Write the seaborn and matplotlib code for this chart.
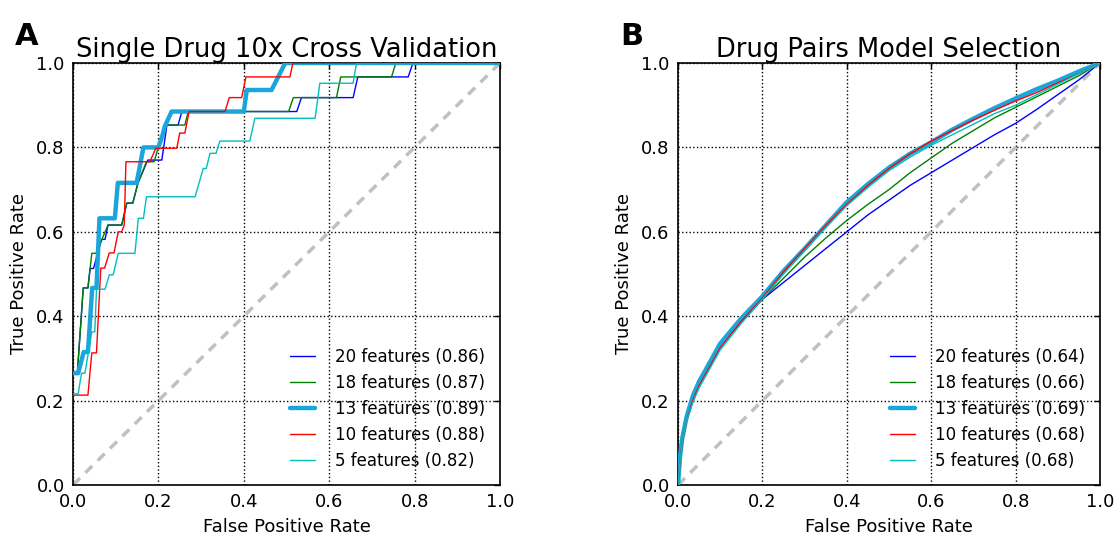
import matplotlib
matplotlib.use("Agg")
import matplotlib.pyplot as plt
import numpy as np
import seaborn as sns

# ---- Panel A: single drug, 10x cross validation (ROC curves) ----
a_labels = ["20 features (0.86)", "18 features (0.87)", "13 features (0.89)",
            "10 features (0.88)", "5 features (0.82)"]

a20_fpr = [0, 0.01, 0.024, 0.035, 0.04, 0.048, 0.067, 0.075, 0.082, 0.114, 0.126, 0.14,
           0.152, 0.175, 0.208, 0.22, 0.246, 0.255, 0.524, 0.535, 0.656, 0.667, 0.785, 0.796, 1.0]
a20_tpr = [0.263, 0.263, 0.467, 0.467, 0.513, 0.513, 0.582, 0.582, 0.616, 0.616, 0.668, 0.668,
           0.715, 0.77, 0.77, 0.853, 0.853, 0.885, 0.885, 0.918, 0.918, 0.967, 0.967, 1.0, 1.0]

a18_fpr = [0, 0.01, 0.024, 0.035, 0.044, 0.054, 0.082, 0.114, 0.126, 0.14, 0.152, 0.172,
           0.19, 0.215, 0.262, 0.27, 0.505, 0.516, 0.617, 0.627, 0.746, 0.756, 1.0]
a18_tpr = [0.263, 0.263, 0.467, 0.467, 0.549, 0.549, 0.616, 0.616, 0.668, 0.668, 0.715, 0.766,
           0.766, 0.853, 0.853, 0.885, 0.885, 0.918, 0.918, 0.967, 0.967, 1.0, 1.0]

a13_fpr = [0, 0.012, 0.025, 0.035, 0.045, 0.055, 0.062, 0.098, 0.105, 0.149, 0.165, 0.20,
           0.21, 0.215, 0.231, 0.40, 0.407, 0.465, 0.497, 1.0]
a13_tpr = [0.265, 0.265, 0.315, 0.315, 0.467, 0.467, 0.632, 0.632, 0.716, 0.716, 0.80, 0.80,
           0.83, 0.85, 0.885, 0.885, 0.936, 0.936, 1.0, 1.0]

a10_fpr = [0, 0.035, 0.044, 0.055, 0.065, 0.074, 0.085, 0.096, 0.106, 0.114, 0.12, 0.124,
           0.18, 0.194, 0.243, 0.25, 0.262, 0.272, 0.356, 0.366, 0.395, 0.405, 0.508, 0.515, 1.0]
a10_tpr = [0.213, 0.213, 0.313, 0.313, 0.514, 0.514, 0.55, 0.55, 0.60, 0.60, 0.616, 0.766,
           0.766, 0.798, 0.798, 0.834, 0.834, 0.885, 0.885, 0.918, 0.918, 0.967, 0.967, 1.0, 1.0]

a5_fpr = [0, 0.012, 0.02, 0.028, 0.044, 0.051, 0.055, 0.075, 0.085, 0.094, 0.106, 0.145,
          0.153, 0.165, 0.172, 0.286, 0.305, 0.312, 0.321, 0.335, 0.344, 0.414, 0.426, 0.567,
          0.578, 0.656, 0.664, 1.0]
a5_tpr = [0.216, 0.216, 0.265, 0.265, 0.363, 0.363, 0.464, 0.464, 0.498, 0.498, 0.549, 0.549,
          0.632, 0.632, 0.683, 0.683, 0.75, 0.75, 0.786, 0.786, 0.815, 0.815, 0.869, 0.869,
          0.952, 0.952, 1.0, 1.0]

# ---- Panel B: drug pairs model selection (ROC curves) ----
b_labels = ["20 features (0.64)", "18 features (0.66)", "13 features (0.69)",
            "10 features (0.68)", "5 features (0.68)"]
b_fpr = [0, 0.005, 0.01, 0.02, 0.035, 0.05, 0.075, 0.1, 0.15, 0.2, 0.25, 0.3, 0.35, 0.4,
         0.45, 0.5, 0.55, 0.6, 0.65, 0.7, 0.75, 0.8, 0.85, 0.9, 0.95, 1.0]
b20_tpr = [0, 0.07, 0.115, 0.165, 0.215, 0.25, 0.29, 0.33, 0.387, 0.44, 0.48, 0.52, 0.56,
           0.60, 0.64, 0.675, 0.71, 0.74, 0.77, 0.80, 0.83, 0.857, 0.89, 0.925, 0.96, 1.0]
b18_tpr = [0, 0.07, 0.115, 0.168, 0.218, 0.25, 0.29, 0.33, 0.39, 0.44, 0.49, 0.54, 0.585,
           0.627, 0.665, 0.70, 0.74, 0.775, 0.81, 0.84, 0.87, 0.895, 0.92, 0.945, 0.97, 1.0]
b13_tpr = [0, 0.07, 0.11, 0.16, 0.21, 0.245, 0.29, 0.335, 0.395, 0.447, 0.507, 0.56, 0.615,
           0.67, 0.713, 0.752, 0.785, 0.812, 0.842, 0.868, 0.893, 0.916, 0.938, 0.958, 0.98, 1.0]
b10_tpr = [0, 0.06, 0.10, 0.15, 0.20, 0.235, 0.28, 0.325, 0.388, 0.443, 0.505, 0.56, 0.615,
           0.665, 0.71, 0.75, 0.785, 0.815, 0.84, 0.865, 0.888, 0.91, 0.93, 0.953, 0.975, 1.0]
b5_tpr = [0, 0.06, 0.10, 0.15, 0.195, 0.23, 0.275, 0.32, 0.383, 0.44, 0.50, 0.555, 0.61,
          0.662, 0.705, 0.745, 0.777, 0.805, 0.83, 0.855, 0.88, 0.90, 0.925, 0.95, 0.975, 1.0]

ticks = [0.0, 0.2, 0.4, 0.6, 0.8, 1.0]
tick_labels = ["0.0", "0.2", "0.4", "0.6", "0.8", "1.0"]

colors = ["#0000ff", "#007f00", "#1aa6dc", "#ff0000", "#00bfbf"]
widths = [1.0, 1.0, 3.2, 1.0, 1.0]

sns.set_style("white")
plt.rcParams["font.family"] = ["DejaVu Sans"]
plt.rcParams.update({
    "text.color": "black",
    "axes.labelcolor": "black",
    "xtick.color": "black",
    "ytick.color": "black",
    "axes.edgecolor": "black",
})

fig = plt.figure(figsize=(11.2, 5.4), dpi=100)
ax_a = fig.add_axes([73 / 1120, 1 - 485 / 540, 427 / 1120, 422 / 540])
ax_b = fig.add_axes([678 / 1120, 1 - 485 / 540, 422 / 1120, 422 / 540])


def style_axes(ax, title):
    ax.plot([0, 1], [0, 1], color="#c0c0c0", lw=2.5, ls=(0, (2.8, 2.2)), zorder=1)
    ax.set_xlim(0, 1)
    ax.set_ylim(0, 1)
    ax.set_xticks(ticks)
    ax.set_yticks(ticks)
    ax.set_xticklabels(tick_labels)
    ax.set_yticklabels(tick_labels)
    ax.tick_params(direction="in", length=4, width=1, top=True, right=True,
                   labelsize=13, pad=6, colors="black")
    ax.grid(True, color="black", ls=":", lw=1)
    for sp in ax.spines.values():
        sp.set_color("black")
        sp.set_linewidth(1.2)
    ax.set_xlabel("False Positive Rate", fontsize=13, labelpad=5, color="black")
    ax.set_ylabel("True Positive Rate", fontsize=13, labelpad=6, color="black")
    ax.set_title(title, fontsize=18.5, pad=4, color="black")


a_curves = [(a20_fpr, a20_tpr), (a18_fpr, a18_tpr), (a13_fpr, a13_tpr),
            (a10_fpr, a10_tpr), (a5_fpr, a5_tpr)]
for (fx, fy), lab, col, lw in zip(a_curves, a_labels, colors, widths):
    sns.lineplot(x=fx, y=fy, ax=ax_a, color=col, linewidth=lw, label=lab,
                 sort=False, estimator=None, zorder=3)

b_curves = [b20_tpr, b18_tpr, b13_tpr, b10_tpr, b5_tpr]
for fy, lab, col, lw in zip(b_curves, b_labels, colors, widths):
    sns.lineplot(x=b_fpr, y=fy, ax=ax_b, color=col, linewidth=lw, label=lab,
                 sort=False, estimator=None, zorder=3)

style_axes(ax_a, "Single Drug 10x Cross Validation")
style_axes(ax_b, "Drug Pairs Model Selection")

for ax in (ax_a, ax_b):
    leg = ax.legend(loc="lower right", frameon=False, fontsize=12, handlelength=1.5,
                    handletextpad=1.2, labelspacing=0.48)
    for t in leg.get_texts():
        t.set_color("black")

fig.text(15 / 1120, 1 - 45 / 540, "A", fontsize=22, fontweight="bold", va="baseline")
fig.text(620 / 1120, 1 - 45 / 540, "B", fontsize=22, fontweight="bold", va="baseline")

fig.savefig("out.png", dpi=100)
